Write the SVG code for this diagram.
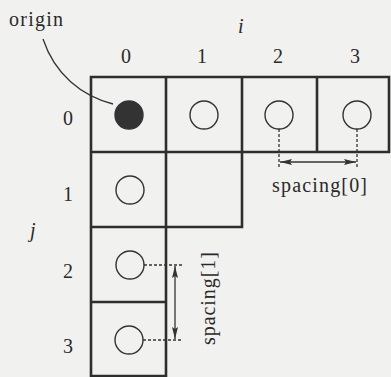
<svg xmlns="http://www.w3.org/2000/svg" width="391" height="377" viewBox="0 0 391 377">
<style>
.grid{fill:none;stroke:#2e2e2e;stroke-width:2.6;stroke-linecap:square}
.c{fill:none;stroke:#333;stroke-width:1.4}
.f{fill:#333;stroke:#333;stroke-width:1.4}
.d{stroke:#333;stroke-width:1.3;stroke-dasharray:3,2;fill:none}
.a{stroke:#333;stroke-width:1.3;fill:none}
text{font-family:'Liberation Serif','Times New Roman','DejaVu Serif',serif;font-size:20px;fill:#2a2a2a}
.it{font-style:italic}
</style>
<defs>
<marker id="ah" viewBox="0 0 12 6" refX="12" refY="3" markerWidth="12" markerHeight="6" markerUnits="userSpaceOnUse" orient="auto-start-reverse">
<path d="M0,0 L12,3 L0,6 L2,3 Z" fill="#333"/>
</marker>
</defs>
<rect width="391" height="377" fill="#f1f1ef"/>
<g id="grid">
<path class="grid" d="M91,77 H389 V152 H91 Z M166,77 V376 M242,77 V227 M317,77 V152 M91,152 V376 H166 M91,227 H242 V152 M91,302 H166"/>
</g>
<g id="cell-0-0"><circle class="f" cx="129" cy="115" r="14"/></g>
<g id="cell-1-0"><circle class="c" cx="204" cy="115" r="14"/></g>
<g id="cell-2-0"><circle class="c" cx="279" cy="115" r="14"/></g>
<g id="cell-3-0"><circle class="c" cx="357" cy="115" r="14"/></g>
<g id="cell-0-1"><circle class="c" cx="130" cy="190" r="14"/></g>
<g id="cell-0-2"><circle class="c" cx="130" cy="265" r="14"/></g>
<g id="cell-0-3"><circle class="c" cx="129" cy="340" r="14"/></g>
<g id="labels" font-family="Liberation Serif, serif">
<text x="9" y="26" textLength="54">origin</text>
<text class="it" x="238" y="33">i</text>
<text x="126" y="63" text-anchor="middle">0</text>
<text x="202" y="63" text-anchor="middle">1</text>
<text x="278" y="63" text-anchor="middle">2</text>
<text x="355" y="63" text-anchor="middle">3</text>
<text x="68" y="125" text-anchor="middle">0</text>
<text x="68" y="201" text-anchor="middle">1</text>
<text x="68" y="278" text-anchor="middle">2</text>
<text x="68" y="353" text-anchor="middle">3</text>
<text class="it" x="30" y="237">j</text>
<text x="272" y="192" textLength="95">spacing[0]</text>
<text transform="translate(215,345) rotate(-90)" textLength="93">spacing[1]</text>
</g>
<g id="connectors">
<path class="a" d="M43,39 C55,75 82,96 113,104"/>
<path class="d" d="M279,129 V168 M357,129 V168"/>
<path class="a" d="M280,162 H356" marker-start="url(#ah)" marker-end="url(#ah)"/>
<path class="d" d="M144,265 H183 M143,340 H183"/>
<path class="a" d="M175,266 V339" marker-start="url(#ah)" marker-end="url(#ah)"/>
</g>
</svg>
